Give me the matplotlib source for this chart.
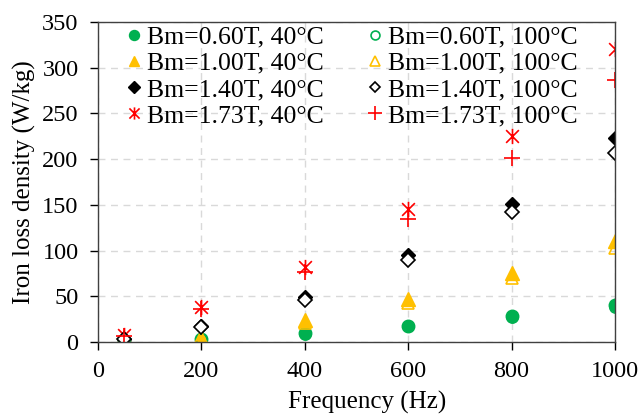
import numpy as np
import matplotlib
matplotlib.use("Agg")
import matplotlib.pyplot as plt
from matplotlib.path import Path

plt.rcParams['font.family'] = ['Liberation Serif', 'DejaVu Serif']

freq = [50, 200, 400, 600, 800, 1000]

# iron loss density (W/kg) per flux density and temperature
b060_40 = [1, 3, 10, 18, 28, 41]
b060_100 = [1, 3, 9, 17, 27, 38]
b100_40 = [1, 6, 24, 47, 75, 110]
b100_100 = [1, 5, 21, 43, 70, 103]
b140_40 = [3, 17, 49, 95, 151, 223]
b140_100 = [3, 16, 46, 90, 142, 207]
b173_40 = [8, 38, 82, 145, 225, 321]
b173_100 = [7, 36, 77, 134, 201, 287]

green = '#00B050'
yellow = '#FFC000'
red = '#FF0000'

# x with a vertical stroke through it
star = Path([(-1, -1), (1, 1), (-1, 1), (1, -1), (0, -1.2), (0, 1.2)],
            [Path.MOVETO, Path.LINETO, Path.MOVETO, Path.LINETO, Path.MOVETO, Path.LINETO])

fig = plt.figure(figsize=(6.43, 4.15), dpi=100)
ax = fig.add_axes([98 / 643, 73 / 415, 517 / 643, 320 / 415])

ax.plot(freq, b060_40, ls='none', marker='o', ms=9, color=green, label='Bm=0.60T, 40°C')
ax.plot(freq, b100_40, ls='none', marker='^', ms=9.5, color=yellow, label='Bm=1.00T, 40°C')
ax.plot(freq, b140_40, ls='none', marker='D', ms=7.5, color='black', label='Bm=1.40T, 40°C')
ax.plot(freq, b173_40, ls='none', marker=star, ms=11, mew=1.2, color=red, label='Bm=1.73T, 40°C')
ax.plot(freq, b060_100, ls='none', marker='o', ms=8, mfc='none', mec=green, mew=1.2, label='Bm=0.60T, 100°C')
ax.plot(freq, b100_100, ls='none', marker='^', ms=8.5, mfc='none', mec=yellow, mew=1.2, label='Bm=1.00T, 100°C')
ax.plot(freq, b140_100, ls='none', marker='D', ms=7, mfc='white', mec='black', mew=1.2, label='Bm=1.40T, 100°C')
ax.plot(freq, b173_100, ls='none', marker='+', ms=12, mew=1.2, color=red, label='Bm=1.73T, 100°C')

ax.set_xlim(0, 1000)
ax.set_ylim(0, 350)
ax.set_xticks(np.arange(0, 1001, 200))
ax.set_yticks(np.arange(0, 351, 50))
ax.grid(True, ls=(0, (5, 4)), color='#d9d9d9', lw=1)
ax.set_axisbelow(True)
ax.tick_params(labelsize=17.5, direction='out', length=6, width=1)
ax.tick_params(axis='y', pad=8)
ax.tick_params(axis='x', pad=8)
for s in ax.spines.values():
    s.set_color('#404040')
    s.set_linewidth(1)

ax.set_xlabel('Frequency (Hz)', fontsize=18, labelpad=6)
ax.xaxis.label.set_x(0.52)
ax.set_ylabel('Iron loss density (W/kg)', fontsize=18, labelpad=4)

ax.legend(ncol=2, loc='upper left', bbox_to_anchor=(0.025, 1.02), frameon=False,
          fontsize=18.5, handletextpad=0.0, columnspacing=1.5,
          labelspacing=0.12, handlelength=1.0, borderaxespad=0.0, markerscale=0.8)

fig.savefig('out.png', dpi=100)
